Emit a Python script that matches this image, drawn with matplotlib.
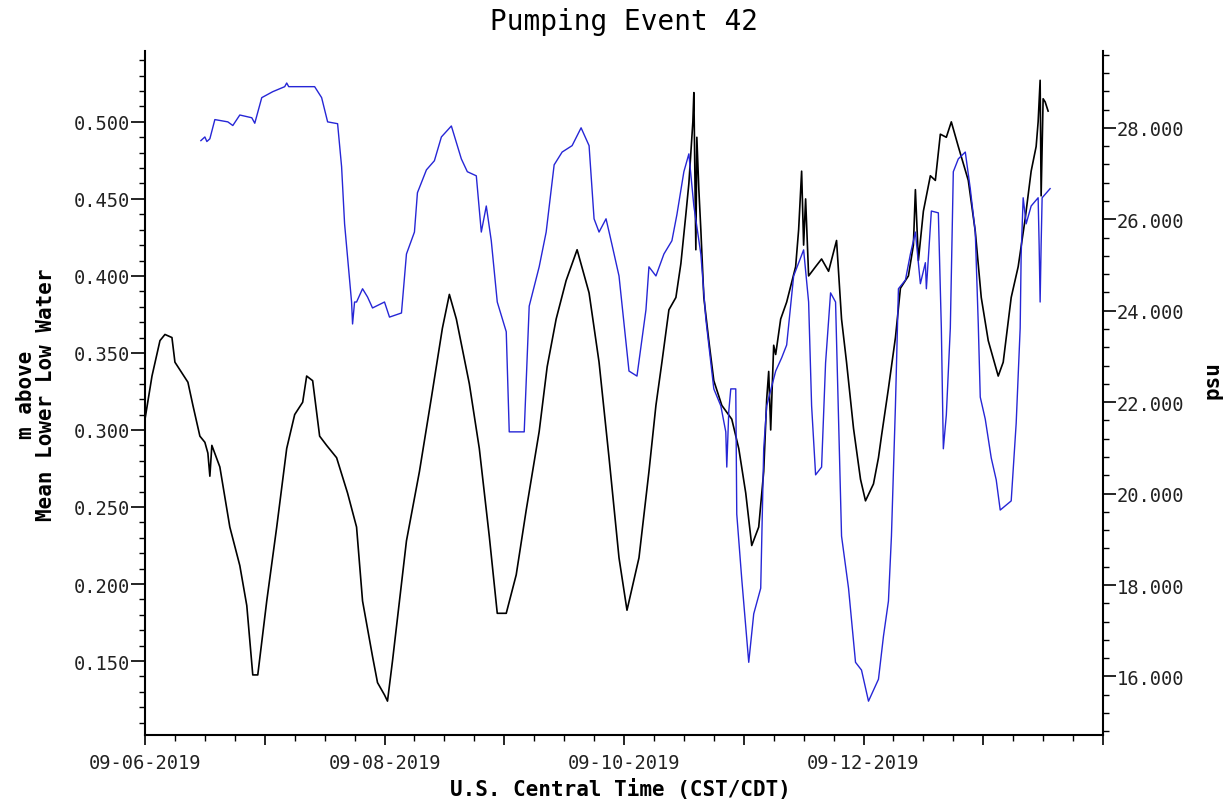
import matplotlib
matplotlib.use("Agg")
import matplotlib.pyplot as plt
import matplotlib.dates as mdates
from matplotlib.ticker import MultipleLocator, FuncFormatter
import pandas as pd

# ---------------- data (hours after 2019-09-06 00:00 CDT) ----------------
start = "2019-09-06 00:00"

level_hours = [0.0, 1.4, 3.0, 4.0, 5.4, 6.0, 8.6, 9.6, 11.0, 12.0, 12.6, 13.0, 13.4,
               15.0, 17.0, 19.0, 20.4, 21.6, 22.6, 24.4, 26.4, 28.4, 30.0, 31.6, 32.4,
               33.6, 35.0, 36.4, 38.4, 40.6, 42.4, 43.6, 45.6, 46.6, 48.0, 48.6, 49.6,
               51.0, 52.4, 55.0, 57.4, 59.6, 61.0, 62.4, 65.0, 67.0, 69.0, 70.6, 72.4,
               74.4, 76.4, 79.0, 80.6, 82.4, 84.4, 86.6, 89.0, 91.0, 93.0, 95.0, 96.6,
               99.0, 101.0, 102.4, 103.6, 105.0, 106.4, 107.4, 108.4, 109.0, 109.4,
               109.8, 110.0, 110.2, 110.4, 110.6, 111.0, 111.4, 112.0, 113.0, 114.0,
               115.6, 117.6, 119.0, 120.4, 121.6, 123.0, 124.0, 124.6, 125.0, 125.4,
               126.0, 126.4, 127.4, 128.6, 130.4, 131.0, 131.6, 132.0, 132.4, 133.0,
               134.4, 135.6, 137.0, 138.6, 139.6, 140.6, 142.0, 143.4, 144.4, 146.0,
               147.0, 147.6, 149.0, 150.4, 151.4, 153.0, 154.0, 154.4, 155.0, 156.0,
               157.4, 158.4, 159.4, 160.6, 161.6, 163.0, 165.0, 166.4, 167.6, 169.0,
               171.0, 172.0, 173.6, 175.0, 176.4, 177.6, 178.6, 179.0, 179.4, 179.6,
               180.0, 180.4, 181.0]
level_m = [0.307, 0.335, 0.358, 0.362, 0.360, 0.344, 0.331, 0.316, 0.296, 0.292, 0.285,
           0.270, 0.290, 0.276, 0.237, 0.212, 0.186, 0.141, 0.141, 0.189, 0.237, 0.288,
           0.310, 0.318, 0.335, 0.332, 0.296, 0.290, 0.282, 0.259, 0.237, 0.189, 0.153,
           0.136, 0.128, 0.124, 0.150, 0.189, 0.228, 0.273, 0.321, 0.366, 0.388, 0.372,
           0.330, 0.288, 0.231, 0.181, 0.181, 0.206, 0.248, 0.299, 0.341, 0.372, 0.397,
           0.417, 0.389, 0.344, 0.282, 0.217, 0.183, 0.217, 0.273, 0.316, 0.344, 0.378,
           0.386, 0.408, 0.440, 0.460, 0.480, 0.500, 0.519, 0.470, 0.417, 0.490, 0.456,
           0.430, 0.386, 0.358, 0.332, 0.316, 0.307, 0.288, 0.259, 0.225, 0.237, 0.273,
           0.320, 0.338, 0.300, 0.355, 0.349, 0.372, 0.383, 0.406, 0.430, 0.468, 0.420,
           0.450, 0.400, 0.406, 0.411, 0.403, 0.423, 0.372, 0.344, 0.301, 0.268, 0.254,
           0.265, 0.282, 0.296, 0.327, 0.360, 0.392, 0.400, 0.420, 0.456, 0.410, 0.442,
           0.465, 0.462, 0.492, 0.490, 0.500, 0.484, 0.462, 0.429, 0.386, 0.358, 0.335,
           0.344, 0.386, 0.406, 0.437, 0.468, 0.484, 0.500, 0.527, 0.452, 0.515, 0.513,
           0.507]

salinity_hours = [11.2, 12.0, 12.4, 13.0, 14.0, 16.6, 17.6, 19.0, 21.4, 22.0, 23.4, 25.6,
                  28.0, 28.4, 28.8, 34.0, 35.4, 36.6, 38.6, 39.4, 40.0, 40.6, 41.4, 41.6,
                  42.0, 42.4, 43.6, 44.6, 45.6, 48.0, 49.0, 51.4, 52.4, 54.0, 54.6, 56.4,
                  58.0, 59.4, 61.4, 63.4, 64.6, 66.4, 67.4, 68.4, 69.4, 70.6, 72.4, 73.0,
                  76.0, 77.0, 79.0, 80.4, 82.0, 83.6, 85.6, 87.4, 89.0, 90.0, 91.0, 92.4,
                  93.6, 95.0, 97.0, 98.6, 100.4, 101.0, 102.4, 104.0, 105.6, 106.6, 108.0,
                  109.0, 110.0, 111.4, 112.4, 114.0, 115.4, 116.4, 116.6, 117.0, 117.4,
                  118.4, 118.6, 119.6, 121.0, 122.0, 123.4, 124.0, 124.6, 126.4, 127.6,
                  128.6, 130.0, 132.0, 133.0, 133.6, 134.4, 135.6, 136.4, 137.4, 138.4,
                  139.6, 141.0, 142.4, 143.6, 145.0, 147.0, 148.0, 149.0, 149.6, 150.4,
                  151.0, 152.4, 153.4, 154.4, 155.4, 156.4, 156.6, 157.6, 159.0, 159.6,
                  160.0, 160.6, 161.4, 162.0, 163.0, 164.4, 165.4, 166.4, 167.0, 167.4,
                  168.4, 169.6, 170.6, 171.4, 173.6, 174.6, 175.4, 175.6, 176.0, 176.6,
                  177.6, 179.0, 179.2, 179.4, 179.6, 179.8, 181.4]
salinity_psu = [27.72, 27.80, 27.70, 27.76, 28.18, 28.13, 28.05, 28.28, 28.22, 28.10, 28.66,
                28.79, 28.90, 28.98, 28.90, 28.90, 28.66, 28.13, 28.09, 27.15, 25.90, 25.16,
                24.19, 23.71, 24.19, 24.19, 24.48, 24.30, 24.06, 24.19, 23.86, 23.95, 25.24,
                25.72, 26.58, 27.08, 27.28, 27.80, 28.04, 27.32, 27.04, 26.95, 25.72, 26.29,
                25.53, 24.19, 23.54, 21.35, 21.35, 24.10, 24.96, 25.72, 27.19, 27.47, 27.61,
                28.00, 27.61, 26.01, 25.72, 26.01, 25.44, 24.76, 22.68, 22.57, 24.02, 24.96,
                24.76, 25.24, 25.53, 26.10, 27.04, 27.43, 26.29, 25.24, 23.82, 22.29, 21.92,
                21.35, 20.58, 21.80, 22.29, 22.29, 19.55, 18.13, 16.31, 17.37, 17.93, 20.98,
                21.92, 22.68, 22.97, 23.25, 24.76, 25.33, 24.19, 21.92, 20.41, 20.58, 22.86,
                24.39, 24.19, 19.07, 17.93, 16.31, 16.14, 15.46, 15.94, 16.88, 17.65, 19.07,
                21.92, 24.48, 24.67, 25.24, 25.72, 24.59, 25.05, 24.48, 26.18, 26.14, 23.62,
                20.98, 21.72, 23.62, 27.04, 27.32, 27.47, 26.67, 25.72, 23.71, 22.11, 21.63,
                20.78, 20.30, 19.64, 19.84, 21.54, 23.62, 25.24, 26.47, 25.90, 26.29, 26.47,
                25.44, 24.19, 25.44, 26.47, 26.67]

labeled_days = ["2019-09-06", "2019-09-08", "2019-09-10", "2019-09-12"]

title = "Pumping Event 42"
xlabel = "U.S. Central Time (CST/CDT)"
ylabel_left = "m above\nMean Lower Low Water"
ylabel_right = "psu"

# ---------------- figure ----------------
mono = "DejaVu Sans Mono"
plt.rcParams["font.family"] = mono

t0 = pd.Timestamp(start)
t_level = t0 + pd.to_timedelta(level_hours, unit="h")
t_sal = t0 + pd.to_timedelta(salinity_hours, unit="h")

fig = plt.figure(figsize=(12.25, 8.03), dpi=100)
ax = fig.add_axes([145 / 1225, 1 - 736 / 803, (1103 - 145) / 1225, (736 - 52) / 803])
ax2 = ax.twinx()

ax.plot(t_level, level_m, color="black", lw=1.2, zorder=2)
ax2.plot(t_sal, salinity_psu, color="#2626d6", lw=1.0, zorder=3)

ax.set_xlim(pd.Timestamp("2019-09-06 00:00"), pd.Timestamp("2019-09-14 00:00"))
ax.set_ylim(0.102, 0.546)
ax2.set_ylim(14.72, 29.68)

for a in (ax, ax2):
    a.spines["top"].set_visible(False)
    for s in a.spines.values():
        s.set_linewidth(1.5)
ax.spines["right"].set_visible(False)
ax2.spines["left"].set_visible(False)
ax2.spines["bottom"].set_visible(False)

ax.yaxis.set_major_locator(MultipleLocator(0.05))
ax.yaxis.set_minor_locator(MultipleLocator(0.01))
ax.yaxis.set_major_formatter(FuncFormatter(lambda v, p: f"{v:.3f}"))
ax2.yaxis.set_major_locator(MultipleLocator(2))
ax2.yaxis.set_minor_locator(MultipleLocator(0.4))
ax2.yaxis.set_major_formatter(FuncFormatter(lambda v, p: f"{v:.3f}"))

ax.xaxis.set_major_locator(mdates.DayLocator())
ax.xaxis.set_minor_locator(mdates.HourLocator(byhour=[6, 12, 18]))
label_set = set(labeled_days)


def day_fmt(v, p):
    d = mdates.num2date(v)
    return d.strftime("%m-%d-%Y") if d.strftime("%Y-%m-%d") in label_set else ""


ax.xaxis.set_major_formatter(FuncFormatter(day_fmt))

ax.tick_params(axis="y", which="major", length=10, width=1.2, pad=1, labelsize=13.5)
ax.tick_params(axis="y", which="minor", length=4, width=1.0)
ax2.tick_params(axis="y", which="major", length=9, width=1.2, pad=1, labelsize=13.5)
ax2.tick_params(axis="y", which="minor", length=4, width=1.0)
ax.tick_params(axis="x", which="major", length=7, width=1.2, pad=6, labelsize=13.5)
ax.tick_params(axis="x", which="minor", length=4, width=1.0)

for lab in ax.get_yticklabels() + ax2.get_yticklabels() + ax.get_xticklabels():
    lab.set_color("#222222")

fig.text(624 / 1225, 1 - 22 / 803, title, ha="center", va="center", fontsize=20)
fig.text(620 / 1225, 1 - 790 / 803, xlabel, ha="center", va="center",
         fontsize=15, fontweight="bold")
fig.text(36 / 1225, 1 - 395 / 803, ylabel_left, ha="center", va="center",
         rotation=90, fontsize=15, fontweight="bold", multialignment="center",
         linespacing=1.05)
fig.text(1212 / 1225, 1 - 380 / 803, ylabel_right, ha="center", va="center",
         rotation=90, fontsize=15, fontweight="bold")

fig.savefig("out.png", dpi=100)
